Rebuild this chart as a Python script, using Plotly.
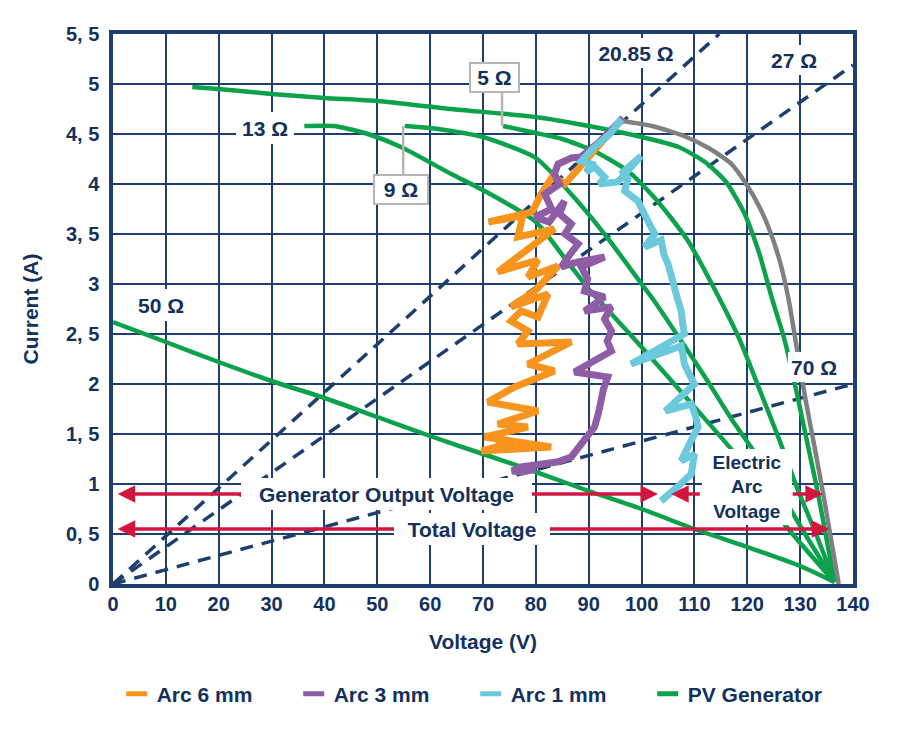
import plotly.graph_objects as go

# ---------------- data ----------------
x_ticks = [0, 10, 20, 30, 40, 50, 60, 70, 80, 90, 100, 110, 120, 130, 140]
y_tickvals = [0, 0.5, 1, 1.5, 2, 2.5, 3, 3.5, 4, 4.5, 5, 5.5]
y_ticktext = ["0", "0, 5", "1", "1, 5", "2", "2, 5", "3", "3, 5", "4", "4, 5", "5", "5, 5"]

# load lines (dashed), end points
load_20_v = [0, 114.7]
load_20_i = [0, 5.5]
load_27_v = [0, 140]
load_27_i = [0, 5.19]
load_70_v = [0, 140]
load_70_i = [0, 2.0]

# PV generator curves (green)
pv_top_v = [15, 20, 30, 40, 50, 64, 80, 90, 100, 107, 112, 116, 119.5, 122.3, 124.7, 127, 129, 131, 133.4, 135, 136.5]
pv_top_i = [4.97, 4.95, 4.9, 4.86, 4.83, 4.75, 4.67, 4.58, 4.47, 4.37, 4.22, 4.02, 3.7, 3.3, 2.85, 2.45, 2.0, 1.5, 0.9, 0.45, 0.02]
pv_5_v = [73.8, 80, 85, 91, 97.4, 101.8, 105, 108.8, 113.5, 118.5, 122.5, 126, 129.5, 133, 136.5]
pv_5_i = [4.58, 4.51, 4.45, 4.33, 4.13, 3.9, 3.7, 3.43, 2.98, 2.45, 1.92, 1.45, 0.95, 0.5, 0.02]
pv_9_v = [55.2, 60, 64, 70, 80, 88, 94, 100, 102.4, 107, 112, 117, 122, 127, 131.5, 136.5]
pv_9_i = [4.58, 4.56, 4.53, 4.47, 4.26, 3.82, 3.43, 3.0, 2.83, 2.47, 2.07, 1.65, 1.27, 0.85, 0.45, 0.02]
pv_13_v = [36.2, 41.9, 48.2, 54.5, 64, 70.3, 80, 86, 90, 94.3, 100, 110, 118.2, 126.7, 136.5]
pv_13_i = [4.58, 4.58, 4.5, 4.37, 4.1, 3.93, 3.62, 3.22, 2.95, 2.7, 2.37, 1.77, 1.27, 0.62, 0.02]
pv_50_v = [0, 10, 20, 30, 40, 50, 60, 70, 80, 90, 100, 110, 120, 130, 136.5]
pv_50_i = [2.62, 2.42, 2.22, 2.03, 1.86, 1.67, 1.48, 1.3, 1.12, 0.93, 0.75, 0.55, 0.37, 0.18, 0.02]

# grey curve
grey_v = [96.3, 102, 108, 113, 117, 119.8, 122.5, 124.5, 126.3, 127.8, 129.4, 131, 132.8, 134.6, 136, 137.3]
grey_i = [4.63, 4.58, 4.48, 4.35, 4.2, 4.0, 3.75, 3.5, 3.2, 2.85, 2.35, 1.85, 1.35, 0.83, 0.4, 0.0]

# arcs
arc6_v = [96.5, 92, 88, 85.5, 83.2, 81, 79.3, 71, 77.5, 76.6, 83.5, 78.5, 72.8, 80.4, 78.5, 84.2, 79.8, 75.3, 82.3,
          80.4, 77.2, 75.3, 78.5, 76.6, 86.7, 78.5, 83.5, 76, 70.9, 80.4, 72.8, 78.5, 70.3, 82.9, 69.7, 76, 72.5]
arc6_i = [4.66, 4.38, 4.15, 4.0, 4.08, 3.9, 3.72, 3.62, 3.68, 3.47, 3.55, 3.34, 3.12, 3.24, 3.07, 3.18, 2.93, 2.77, 2.9,
          2.67, 2.73, 2.63, 2.53, 2.4, 2.42, 2.2, 2.13, 1.97, 1.82, 1.73, 1.6, 1.57, 1.47, 1.37, 1.33, 1.42, 1.38]
arc3_v = [96.5, 92, 88.5, 86.7, 84.2, 83.5, 84.5, 81.7, 83, 79.8, 82.5, 85.4, 84.5, 86.7, 85.5, 88, 86.5, 84.8, 88, 93,
          88.6, 89.8, 89.2, 93, 89.2, 94.3, 93, 94.3, 93.5, 94.3, 87.3, 93.6, 92.8, 92.4, 91.8, 91.1, 90, 88.6, 86.7, 84,
          81.7, 77.2, 75.5, 77.5, 80]
arc3_i = [4.66, 4.42, 4.27, 4.26, 4.2, 4.1, 4.0, 3.9, 3.75, 3.67, 3.62, 3.83, 3.7, 3.6, 3.5, 3.4, 3.3, 3.17, 3.22, 3.27,
          3.17, 3.05, 2.93, 2.87, 2.73, 2.77, 2.65, 2.53, 2.43, 2.33, 2.12, 2.07, 1.95, 1.83, 1.7, 1.57, 1.5, 1.4, 1.27, 1.22,
          1.2, 1.17, 1.13, 1.12, 1.15]
arc1_v = [96.2, 94, 91.1, 88.6, 90.5, 89.5, 91.1, 93, 92, 95.5, 99.9, 96.5, 97.4, 96.8, 99.3, 100.2, 101.2, 102.5, 100.6,
          103.7, 104.2, 105, 105.5, 106.2, 106.8, 107.5, 107.8, 108.1, 98, 107.5, 107.8, 108.1, 109, 110, 104.5, 109.4,
          110.2, 110.7, 109.5, 107.5, 110, 109.4, 107, 103.7]
arc1_i = [4.65, 4.5, 4.37, 4.23, 4.2, 4.12, 4.17, 4.07, 4.0, 4.02, 4.28, 4.12, 4.05, 3.93, 3.83, 3.75, 3.63, 3.5, 3.37,
          3.44, 3.3, 3.2, 3.08, 2.97, 2.85, 2.73, 2.6, 2.5, 2.2, 2.38, 2.3, 2.2, 2.1, 2.0, 1.73, 1.8, 1.68, 1.57, 1.45,
          1.23, 1.3, 1.1, 0.98, 0.83]

# voltage arrows (spans along V, at current level)
gen_span = [0.6, 103.1]
gen_level = 0.9
arc_left_span = [111.3, 105.6]
arc_right_span = [128.3, 134.3]
total_span = [0.6, 135.5]
total_level = 0.55

legend_names = ["Arc 6 mm", "Arc 3 mm", "Arc 1 mm", "PV Generator"]

# ---------------- style ----------------
FONT = "Liberation Sans, Arial, sans-serif"
NAVY = "#1c3f6e"
TXT = "#13315c"
GREEN = "#0ca24b"
GREY = "#808080"
ORANGE = "#f7941d"
PURPLE = "#8f5ca6"
LBLUE = "#6cc9dc"
RED = "#d2163f"
BOXGREY = "#b5b5b5"

fig = go.Figure()

dash_style = dict(color=NAVY, width=3.5, dash="13px,9px")
for vv, ii in [(load_20_v, load_20_i), (load_27_v, load_27_i), (load_70_v, load_70_i)]:
    fig.add_trace(go.Scatter(x=vv, y=ii, mode="lines", line=dash_style, showlegend=False, hoverinfo="skip"))

for vv, ii in [(pv_50_v, pv_50_i), (pv_13_v, pv_13_i), (pv_9_v, pv_9_i), (pv_5_v, pv_5_i), (pv_top_v, pv_top_i)]:
    fig.add_trace(go.Scatter(x=vv, y=ii, mode="lines", line=dict(color=GREEN, width=4.5, shape="spline", smoothing=0.6),
                             showlegend=False, hoverinfo="skip"))

fig.add_trace(go.Scatter(x=grey_v, y=grey_i, mode="lines", line=dict(color=GREY, width=4.5, shape="spline", smoothing=0.6),
                         showlegend=False, hoverinfo="skip"))

for vv, ii, c in [(arc6_v, arc6_i, ORANGE), (arc3_v, arc3_i, PURPLE), (arc1_v, arc1_i, LBLUE)]:
    fig.add_trace(go.Scatter(x=vv, y=ii, mode="lines", line=dict(color=c, width=7, shape="linear"),
                             showlegend=False, hoverinfo="skip"))

# legend entries
for name, c in zip(legend_names, [ORANGE, PURPLE, LBLUE, GREEN]):
    fig.add_trace(go.Scatter(x=[None], y=[None], mode="markers", name=name,
                             marker=dict(symbol="line-ew", size=15, color=c, line=dict(width=7, color=c))))

ann_font = dict(family=FONT, size=21, color=TXT, weight="bold")
annotations = []


def arrow(x_tip, x_tail, y, both=False):
    d = dict(x=x_tip, y=y, ax=x_tail, ay=y, xref="x", yref="y", axref="x", ayref="y", text="",
             showarrow=True, arrowhead=2, arrowsize=1.0, arrowwidth=3.5, arrowcolor=RED)
    if both:
        d.update(arrowside="end+start", startarrowhead=2, startarrowsize=1.0)
    annotations.append(d)


arrow(gen_span[1], gen_span[0], gen_level, both=True)
arrow(arc_left_span[1], arc_left_span[0], gen_level)
arrow(arc_right_span[1], arc_right_span[0], gen_level)
arrow(total_span[1], total_span[0], total_level, both=True)


def label(text, x, y, w, h, border=None, size=21):
    f = dict(ann_font)
    f["size"] = size
    d = dict(text=text, x=x, y=y, xref="x", yref="y", showarrow=False, font=f,
             bgcolor="white", width=w, height=h, borderpad=1, align="center", valign="middle")
    if border:
        d.update(bordercolor=border, borderwidth=2)
    else:
        d.update(borderwidth=0)
    annotations.append(d)


label("Generator Output Voltage", 51.8, gen_level, 289, 30)
label("Total Voltage", 67.9, total_level, 154, 30)
label("13 Ω", 28.8, 4.56, 56, 30)
label("20.85 Ω", 99.0, 5.31, 88, 28)
label("27 Ω", 128.9, 5.24, 56, 28)
label("70 Ω", 132.6, 2.17, 50, 28)
label("50 Ω", 9.0, 2.79, 56, 30)
label("9 Ω", 54.4, 3.95, 50, 25, border=BOXGREY)
label("5 Ω", 72.2, 5.07, 45, 25, border=BOXGREY)
label("Electric<br>Arc<br>Voltage", 119.9, 0.97, 88, 74, size=19)

shapes = [
    dict(type="line", xref="x", yref="y", x0=pv_9_v[0] - 0.3, x1=pv_9_v[0] - 0.3, y0=pv_9_i[0], y1=4.1,
         line=dict(color=BOXGREY, width=2.5)),
    dict(type="line", xref="x", yref="y", x0=pv_5_v[0] - 0.2, x1=pv_5_v[0] - 0.2, y0=pv_5_i[0], y1=4.92,
         line=dict(color=BOXGREY, width=2.5)),
]

axis_common = dict(showgrid=True, gridcolor=NAVY, gridwidth=2, showline=True, linecolor=NAVY, linewidth=3.5,
                   mirror=True, ticks="", zeroline=False, automargin=False,
                   tickfont=dict(family=FONT, size=20, color=TXT, weight="bold"))

fig.update_layout(
    width=900, height=737,
    margin=dict(l=105, r=55, t=26, b=161, autoexpand=False),
    paper_bgcolor="white", plot_bgcolor="white",
    font=dict(family=FONT, color=TXT),
    xaxis=dict(range=[0, 140], tickvals=x_ticks, ticktext=[str(v) for v in x_ticks], ticklabelstandoff=-1,
               title=dict(text="Voltage (V)", font=dict(family=FONT, size=21, color=TXT, weight="bold"), standoff=22),
               **axis_common),
    yaxis=dict(range=[0, 5.5], tickvals=y_tickvals, ticktext=y_ticktext, ticklabelstandoff=6,
               title=dict(text="Current (A)", font=dict(family=FONT, size=21, color=TXT, weight="bold"), standoff=23),
               **axis_common),
    legend=dict(orientation="h", x=0.005, xanchor="left", y=-0.2, yanchor="middle",
                entrywidth=132, entrywidthmode="pixels",
                font=dict(family=FONT, size=21, color=TXT, weight="bold"), bgcolor="rgba(0,0,0,0)"),
    annotations=annotations,
    shapes=shapes,
)

fig.write_html("out.html")
